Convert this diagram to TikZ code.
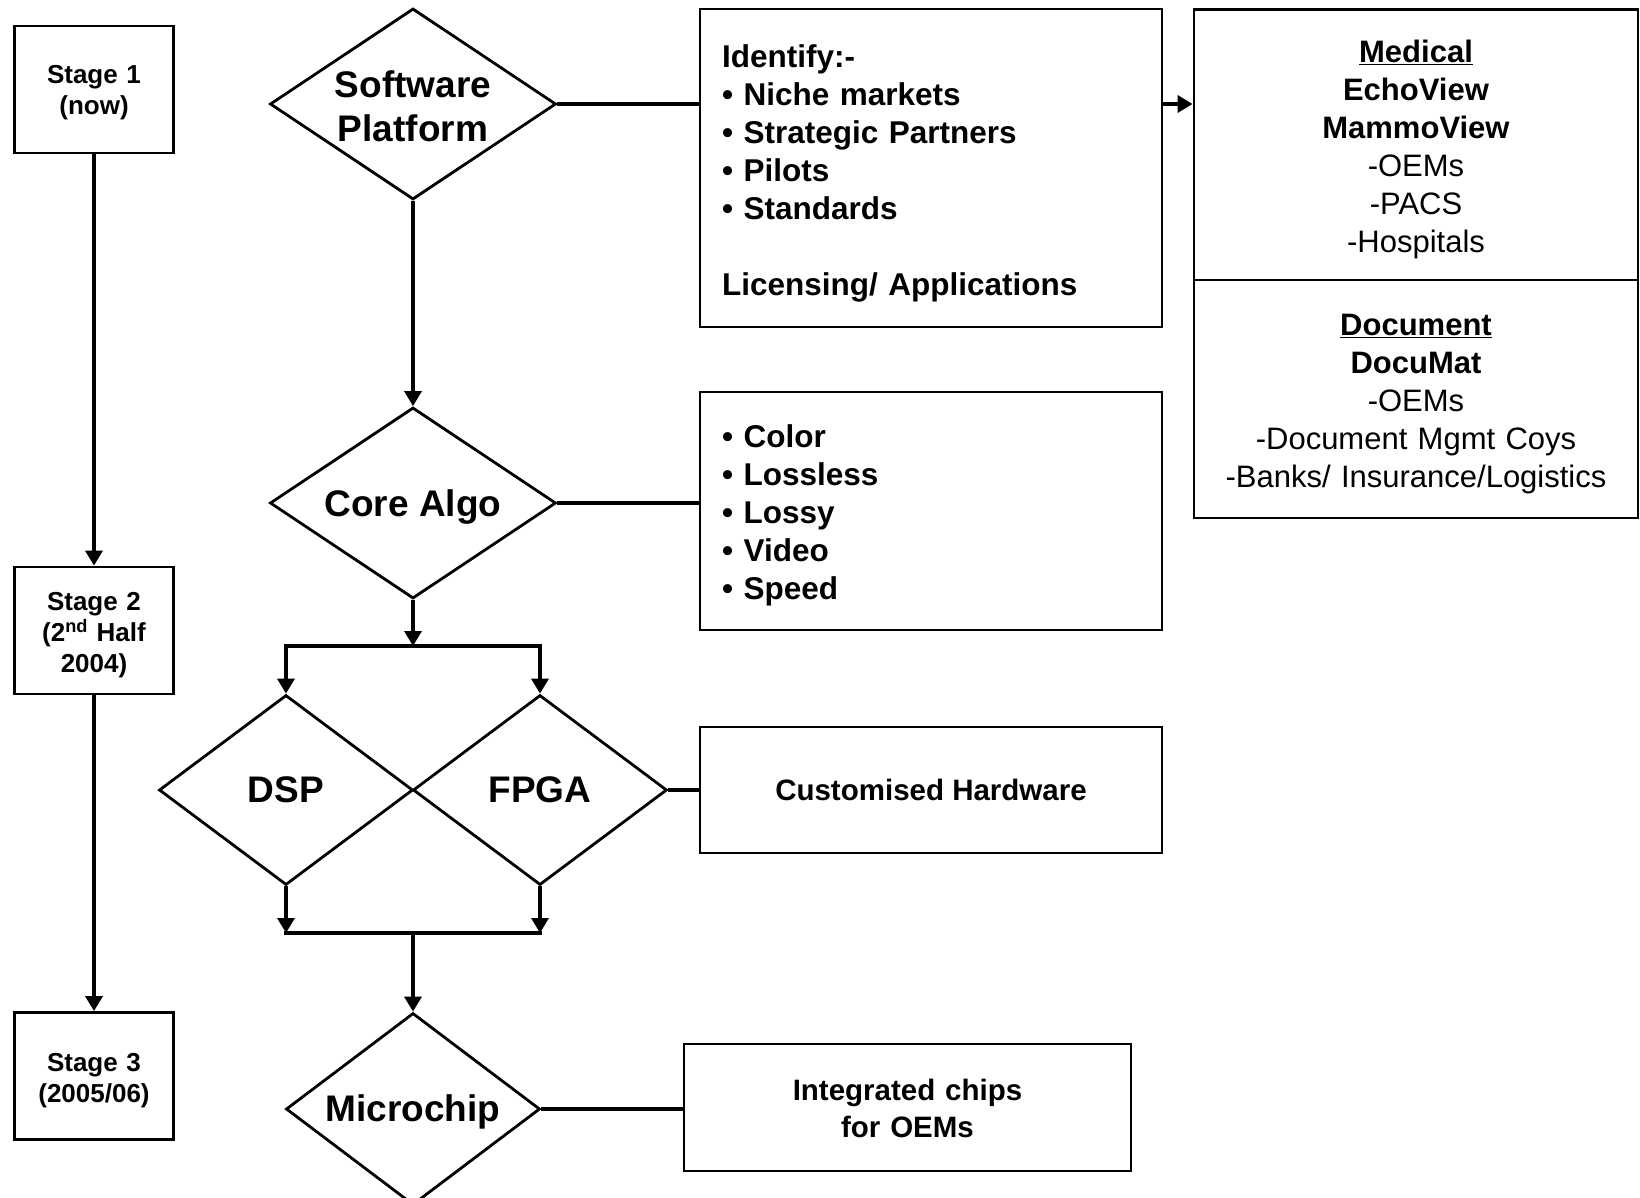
\documentclass[tikz,border=0pt]{standalone}
\usepackage{fontspec}
\setmainfont{Liberation Sans}
\usetikzlibrary{shapes.geometric,arrows.meta,calc}
\begin{document}
\begin{tikzpicture}[x=1pt,y=-1pt,
  conn/.style={line width=3.4pt},
  arr/.style={conn,-{Triangle[length=15pt,width=17pt]}},
  stagebox/.style={draw,rectangle,line width=2.8pt,minimum width=159pt,minimum height=127pt,inner sep=0pt,align=center,text width=150pt,font=\bfseries\fontsize{26}{31}\selectfont},
  dia/.style={draw,diamond,line width=2.8pt,inner sep=0pt,align=center,font=\bfseries\fontsize{37}{44.5}\selectfont},
  infobox/.style={draw,rectangle,line width=2.8pt,inner sep=0pt,font=\bfseries\fontsize{31.5}{38}\selectfont},
  smallbox/.style={draw,rectangle,line width=2.8pt,inner sep=0pt,align=center,font=\bfseries\fontsize{29.5}{37.5}\selectfont},
  mktbox/.style={draw,rectangle,line width=2.8pt,inner sep=0pt,align=center,text width=440pt,minimum width=444pt,font=\fontsize{31}{38}\selectfont}
]
\fill[white] (0,0) rectangle (1640,1198);
\useasboundingbox (0,0) rectangle (1640,1198);

% stages
\node[stagebox,text depth=30pt] (s1) at (94,89.5) {Stage 1\\(now)};
\node[stagebox,text depth=58pt] (s2) at (94,630.5) {Stage 2\\(2\textsuperscript{nd} Half\\2004)};
\node[stagebox,text depth=28pt] (s3) at (94,1076) {Stage 3\\(2005/06)};

% diamonds
\node[dia,aspect=1.5,minimum width=286pt,minimum height=191pt,text width=170pt,text depth=40pt] (sw) at (413,104) {Software\\Platform};
\node[dia,aspect=1.5,minimum width=286pt,minimum height=191pt,text depth=0pt] (core) at (413,503) {Core Algo};
\node[dia,aspect=1.34,minimum width=254pt,minimum height=190pt] (dsp) at (286,790) {DSP};
\node[dia,aspect=1.34,minimum width=254pt,minimum height=190pt] (fpga) at (540,790) {FPGA};
\node[dia,aspect=1.32,minimum width=254pt,minimum height=192pt,text depth=1.5pt] (micro) at (413,1109) {Microchip};

% info boxes
\node[infobox,minimum width=462pt,minimum height=318pt,text width=418pt,align=left,text depth=224pt] (id) at (931,168)
  {Identify:-\\• Niche markets\\• Strategic Partners\\• Pilots\\• Standards\\[38pt]Licensing/ Applications};
\node[infobox,minimum width=462pt,minimum height=238pt,text width=418pt,align=left,text depth=150pt] (col) at (931,511)
  {• Color\\• Lossless\\• Lossy\\• Video\\• Speed};
\node[smallbox,minimum width=462pt,minimum height=126pt] (hw) at (931,790) {Customised Hardware};
\node[smallbox,minimum width=447pt,minimum height=127pt,text width=400pt,text depth=35.5pt] (chips) at (907.5,1107.5) {Integrated chips\\for OEMs};

% market boxes
\node[mktbox,minimum height=270.6pt,text depth=187pt] (med) at (1416,144.7)
  {\textbf{\underline{Medical}}\\\textbf{EchoView}\\\textbf{MammoView}\\-OEMs\\-PACS\\-Hospitals};
\node[mktbox,minimum height=238pt,text depth=148pt] (doc) at (1416,399)
  {\textbf{\underline{Document}}\\\textbf{DocuMat}\\-OEMs\\-Document Mgmt Coys\\-Banks/ Insurance/Logistics};

% stage arrows
\draw[arr] (s1) -- (s2);
\draw[arr] (s2) -- (s3);

% main flow
\draw[arr] (sw) -- (core);
\draw[conn] (sw.east) -- (sw.east -| id.west);
\draw[arr] (sw.east -| id.east) -- (sw.east -| med.west);
\draw[conn] (core.east) -- (core.east -| col.west);

\coordinate (split) at (413,646);
\draw[arr] (core.south) -- (split);
\draw[conn,line cap=rect] (dsp.north |- split) -- (fpga.north |- split);
\draw[arr] (dsp.north |- split) -- (dsp.north);
\draw[arr] (fpga.north |- split) -- (fpga.north);

\coordinate (join) at (413,933);
\draw[arr] (dsp.south) -- (dsp.south |- join);
\draw[arr] (fpga.south) -- (fpga.south |- join);
\draw[conn,line cap=rect] (dsp.south |- join) -- (fpga.south |- join);
\draw[arr] (join) -- (micro.north);

\draw[conn] (fpga.east) -- (fpga.east -| hw.west);
\draw[conn] (micro.east) -- (micro.east -| chips.west);
\end{tikzpicture}
\end{document}
